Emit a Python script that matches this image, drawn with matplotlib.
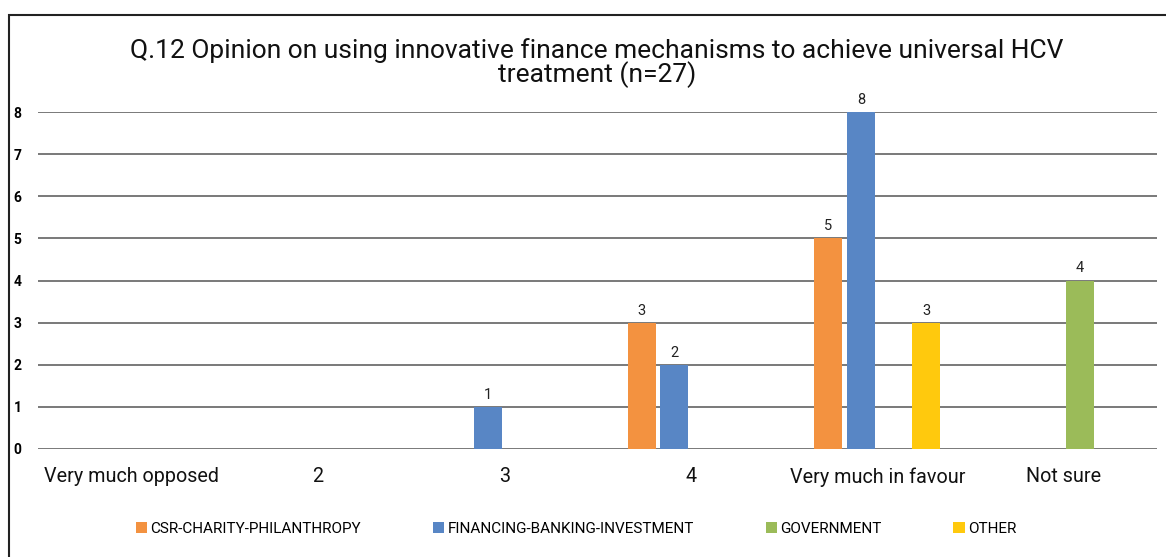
"""Grouped bar chart: opinion on innovative finance mechanisms for HCV treatment."""
import matplotlib
matplotlib.use("Agg")
import matplotlib.pyplot as plt  # type: ignore
from matplotlib.patches import Rectangle, Patch
import numpy as np

plt.rcParams["font.family"] = ["Roboto", "DejaVu Sans"]

categories = ["Very much opposed", "2", "3", "4", "Very much in favour", "Not sure"]
series_names = ["CSR-CHARITY-PHILANTHROPY", "FINANCING-BANKING-INVESTMENT",
                "GOVERNMENT", "OTHER"]
csr = [0, 0, 0, 3, 5, 0]
financing = [0, 0, 1, 2, 8, 0]
government = [0, 0, 0, 0, 0, 4]
other = [0, 0, 0, 0, 3, 0]
colors = ["#F39240", "#5886C5", "#9BBB59", "#FFC90D"]

fig = plt.figure(figsize=(11.66, 5.57), dpi=100)
ax = fig.add_axes([38 / 1166, 1 - 449 / 557, (1157 - 38) / 1166, (449 - 112) / 557])

x = np.arange(len(categories))
width = 0.15
step = 0.176
for i, (vals, col) in enumerate(zip([csr, financing, government, other], colors)):
    bars = ax.bar(x + (i - 1.5) * step, vals, width, color=col, zorder=3)
    for b, v in zip(bars, vals):
        if v:
            ax.text(b.get_x() + b.get_width() / 2, v + 0.12, str(v),
                    ha="center", va="bottom", fontsize=10.5, color="#222222")

ax.set_xlim(-0.5, len(categories) - 0.5)
ax.set_ylim(0, 8)
ax.set_yticks(range(0, 9))
ax.yaxis.grid(True, color="#555555", linewidth=1.1, zorder=0)
for s in ax.spines.values():
    s.set_visible(False)
ax.tick_params(axis="y", length=0, pad=12, labelsize=10)
for lbl in ax.get_yticklabels():
    lbl.set_fontweight("bold")
ax.set_xticks(x)
ax.set_xticklabels(categories, fontsize=14.2, color="#111111")
ax.tick_params(axis="x", length=0, pad=13)

fig.text(597 / 1166, 1 - 63 / 557,
         "Q.12 Opinion on using innovative finance mechanisms to achieve universal HCV\ntreatment (n=27)",
         ha="center", va="center", fontsize=19, linespacing=0.9, color="#111111")

handles = [Patch(facecolor=c, edgecolor="none") for c in colors]
fig.legend(handles, series_names, loc="center", bbox_to_anchor=(576 / 1166, 1 - 529 / 557),
           ncol=4, frameon=False, fontsize=11, handlelength=0.75, handleheight=0.75,
           handletextpad=0.2, columnspacing=4.7)

fig.patches.append(Rectangle((9 / 1166, -0.1), 1.2, 1.1 - 15 / 557,
                             transform=fig.transFigure, fill=False,
                             edgecolor="#222222", linewidth=1.5))

fig.savefig("out.png", dpi=100)
